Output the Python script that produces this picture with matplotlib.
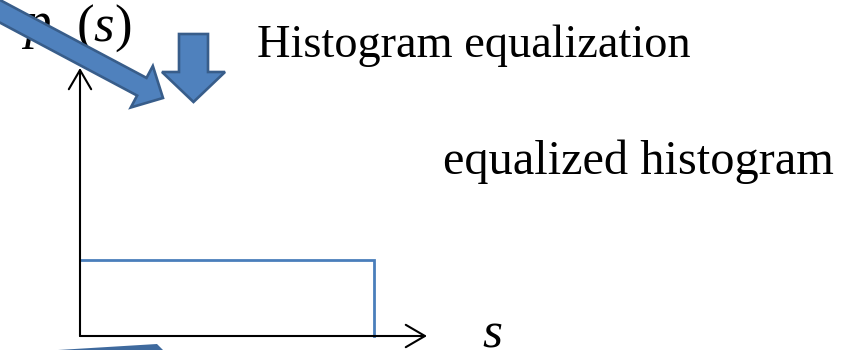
import numpy as np
import matplotlib.pyplot as plt
from matplotlib.patches import FancyArrow, Polygon

plt.rcParams['font.family'] = ['Liberation Serif', 'DejaVu Serif']
plt.rcParams['mathtext.fontset'] = 'custom'
plt.rcParams['mathtext.rm'] = 'Liberation Serif'
plt.rcParams['mathtext.it'] = 'Liberation Serif:italic'

# uniform (equalized) histogram: p(s) constant over [0, 1]
s_edges = [0.0, 1.0]
p_level = [1.0]

title_text = 'Histogram equalization'
caption_text = 'equalized histogram'

fill_blue = '#4F81BD'
edge_blue = '#385D8A'
line_blue = '#4A7EBB'

W, H = 853, 350
fig = plt.figure(figsize=(W / 100, H / 100), dpi=100)

# histogram axes, placed in pixel terms
x0, x1 = 80, 427      # y-axis position, x-arrow tip
y0, y1 = 336, 68      # x-axis position, y-arrow tip
s_px = 374 - x0       # pixels for s = 1
p_px = y0 - 260       # pixels for p = 1
ax = fig.add_axes([x0 / W, (H - y0) / H, (x1 - x0) / W, (y0 - y1) / H])
ax.set_xlim(0, s_edges[-1] * (x1 - x0) / s_px)
ax.set_ylim(0, p_level[0] * (y0 - y1) / p_px)
ax.axis('off')

xs = [s_edges[0], s_edges[1], s_edges[1]]
ys = [p_level[0], p_level[0], 0]
ax.plot(xs, ys, color=line_blue, lw=2.0, solid_joinstyle='miter', clip_on=False)

arrow_kw = dict(arrowstyle='->,head_length=0.6,head_width=0.35', lw=1.5,
                color='black', mutation_scale=23, shrinkA=0, shrinkB=0)
ax.annotate('', xy=(1, 0), xytext=(0, 0), xycoords='axes fraction',
            arrowprops=arrow_kw)
ax.annotate('', xy=(0, 1), xytext=(0, 0), xycoords='axes fraction',
            arrowprops=arrow_kw)

# overlay in pixel coordinates for labels and block arrows
ov = fig.add_axes([0, 0, 1, 1])
ov.set_xlim(0, W)
ov.set_ylim(H, 0)
ov.axis('off')
ov.patch.set_alpha(0)

ov.text(24, 38, 'p', fontsize=38, style='italic', va='baseline', zorder=1)
ov.text(76, 41, r'$(s)$', fontsize=38, va='baseline', zorder=1)
ov.text(482, 348, 's', fontsize=37, style='italic', va='baseline', zorder=1)
ov.text(257, 57, title_text, fontsize=33.4, va='baseline', zorder=1)
ov.text(443, 174, caption_text, fontsize=34.8, va='baseline', zorder=1)

# long diagonal arrow coming from the upper left
ang = np.deg2rad(28)
tip = np.array([163.0, 98.0])
L = 230
start = tip - L * np.array([np.cos(ang), np.sin(ang)])
ov.add_patch(FancyArrow(start[0], start[1], tip[0] - start[0], tip[1] - start[1],
                        width=20, head_width=47, head_length=24,
                        length_includes_head=True, fc=fill_blue, ec=edge_blue,
                        lw=1.9, zorder=3))

# short downward arrow
ov.add_patch(FancyArrow(193.5, 34, 0, 68, width=29, head_width=63, head_length=30,
                        length_includes_head=True, fc=fill_blue, ec=edge_blue,
                        lw=1.9, zorder=3))

# edge of another shape peeking in at the bottom
ov.add_patch(Polygon([(58, 350), (157, 344), (163, 350)], closed=True,
                     fc='#3F6A9E', ec='none', zorder=3))

fig.savefig('out.png', dpi=100)
